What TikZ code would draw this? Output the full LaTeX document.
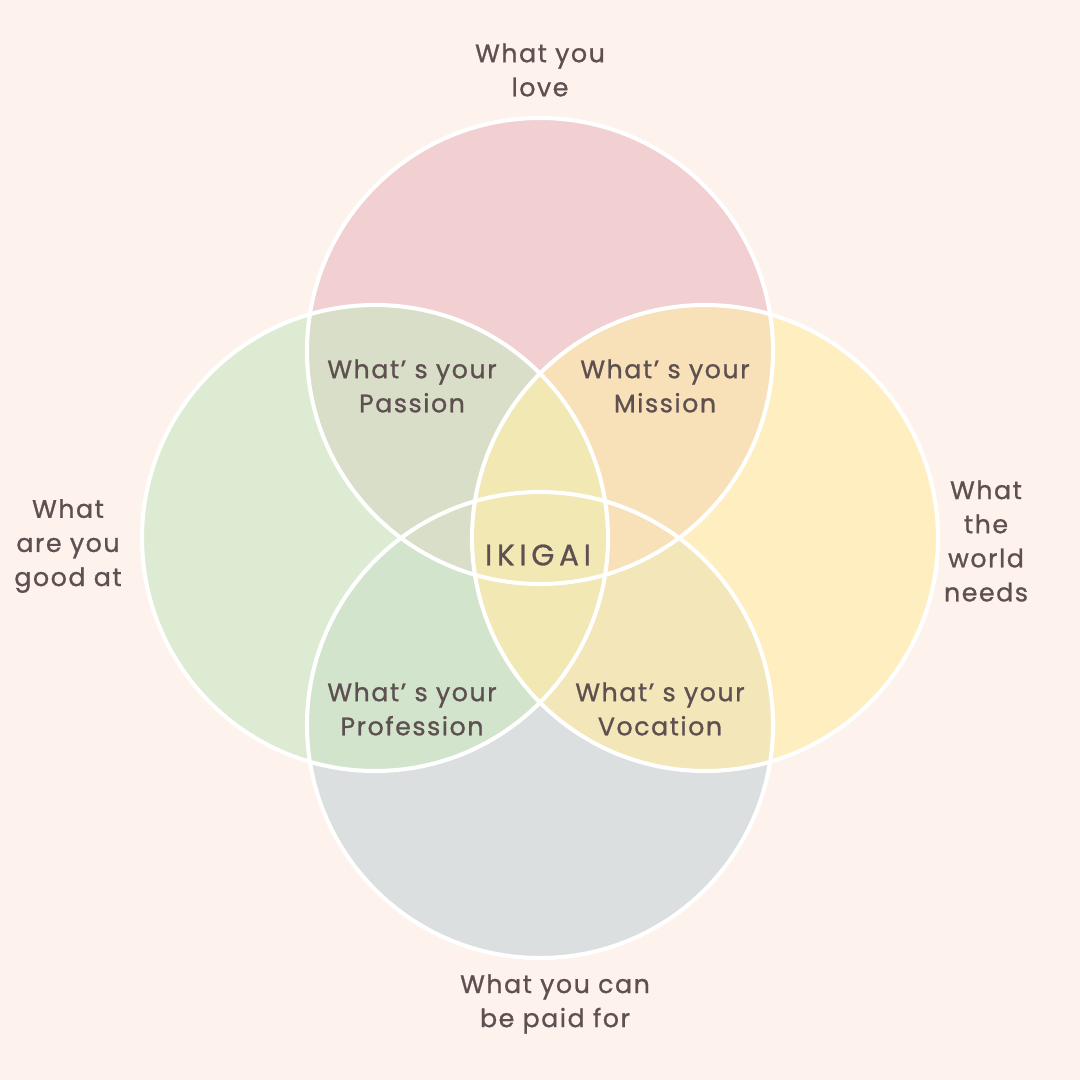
\documentclass[tikz,border=0pt]{standalone}
\usepackage{fontspec}
\setmainfont{Poppins}[LetterSpace=6,FakeBold=0.9]
\usepackage{tikz}
\usetikzlibrary{positioning}
\definecolor{paper}{HTML}{FDF3EC}
\definecolor{ink}{HTML}{5E5050}
\definecolor{love}{HTML}{F2CFD1}
\definecolor{good}{HTML}{DDEBD3}
\definecolor{world}{HTML}{FEEEC0}
\definecolor{paid}{HTML}{DBDFE0}
\definecolor{passion}{HTML}{D9DEC8}
\definecolor{mission}{HTML}{F8E1B8}
\definecolor{profession}{HTML}{D3E4CD}
\definecolor{vocation}{HTML}{F3E6B9}
\definecolor{core}{HTML}{F1E8B4}
\newcommand{\rad}{2.33}

\begin{document}
\begin{tikzpicture}[
    txt/.style={font=\fontsize{7.2}{9.7}\selectfont,text=ink,align=center},
    rim/.style={draw=white,line width=1.15pt}]
  % Background
  \fill[paper] (0,0) rectangle (10.8,-10.8);
  \useasboundingbox (0,0) rectangle (10.8,-10.8);

  % Circle centres
  \coordinate (cLove) at (5.40,-3.51);
  \coordinate (cGood) at (3.75,-5.38);
  \coordinate (cWorld) at (7.05,-5.38);
  \coordinate (cPaid) at (5.40,-7.25);

  % Plain circles
  \fill[love] (cLove) circle (\rad);
  \fill[good] (cGood) circle (\rad);
  \fill[world] (cWorld) circle (\rad);
  \fill[paid] (cPaid) circle (\rad);

  % Overlaps
  \begin{scope}
    \clip (cGood) circle (\rad);
    \fill[profession] (cPaid) circle (\rad);
  \end{scope}
  \begin{scope}
    \clip (cWorld) circle (\rad);
    \fill[vocation] (cPaid) circle (\rad);
  \end{scope}
  \begin{scope}
    \clip (cGood) circle (\rad);
    \fill[passion] (cLove) circle (\rad);
  \end{scope}
  \begin{scope}
    \clip (cWorld) circle (\rad);
    \fill[mission] (cLove) circle (\rad);
  \end{scope}
  \begin{scope}
    \clip (cGood) circle (\rad);
    \fill[core] (cWorld) circle (\rad);
  \end{scope}

  % White rims
  \draw[rim] (cLove) circle (\rad);
  \draw[rim] (cGood) circle (\rad);
  \draw[rim] (cWorld) circle (\rad);
  \draw[rim] (cPaid) circle (\rad);

  % Outer labels
  \node[txt] (tLove) at (5.40,-0.70) {What you\\love};
  \node[txt] (tGood) at (0.68,-5.46) {What\\are you\\good at};
  \node[txt] (tWorld) at (9.86,-5.41) {What\\the\\world\\needs};
  \node[txt] (tPaid) at (5.55,-10.04) {What you can\\be paid for};

  % Inner labels
  \node[txt] (tPassion) at (4.12,-3.86) {What’ s your\\Passion};
  \node[txt] (tMission) at (6.65,-3.86) {What’ s your\\Mission};
  \node[txt] (tProfession) at (4.12,-7.09) {What’ s your\\Profession};
  \node[txt] (tVocation) at (6.60,-7.09) {What’ s your\\Vocation};
  \node[txt,font=\fontsize{8.4}{10}\selectfont\addfontfeatures{LetterSpace=16}] (tIkigai) at (5.38,-5.55) {IKIGAI};
\end{tikzpicture}
\end{document}
